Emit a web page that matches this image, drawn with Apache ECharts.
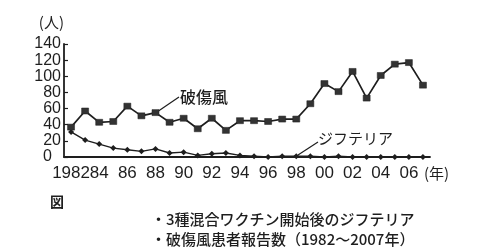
<!DOCTYPE html>
<html><head><meta charset="utf-8">
<script src="https://cdn.jsdelivr.net/npm/echarts@6/dist/echarts.min.js"></script>
<style>html,body{margin:0;padding:0;background:#fff}#c{width:500px;height:251px}</style>
</head><body><div id="c"></div>
<script>
var years = ['1982','1983','1984','1985','1986','1987','1988','1989','1990','1991','1992','1993','1994','1995','1996','1997','1998','1999','2000','2001','2002','2003','2004','2005','2006','2007'];
var yearLabels = ['1982','','84','','86','','88','','90','','92','','94','','96','','98','','00','','02','','04','','06',''];
var tetanus = [37,57,43,44,63,51,55,43,48,35,48,33,45,45,44,47,47,66,91,81,106,73,101,115,117,89];
var diphtheria = [31,21,16,11,9,7,10,5,6,2,4,5,2,1,0,1,1,1,0,1,0,0,0,0,0,0];
var tetanusName = '破傷風';
var diphtheriaName = 'ジフテリア';
var figLabel = '図';
var caption1 = '・3種混合ワクチン開始後のジフテリア';
var caption2 = '・破傷風患者報告数（1982～2007年）';

var ink = '#1e1e1e';
var numFont = 'Liberation Sans';
var jpFont = 'Noto Sans CJK JP';
var chart = echarts.init(document.getElementById('c'), null, {renderer:'canvas'});
chart.setOption({
  backgroundColor:'#fff',
  animation:false,
  grid:{left:64, right:70, top:44, bottom:94},
  xAxis:{
    type:'category', data:years, boundaryGap:true,
    name:'(年)', nameLocation:'end', nameGap:-6,
    nameTextStyle:{color:ink, fontFamily:jpFont, fontSize:15, verticalAlign:'top', align:'left', padding:[9,0,0,0]},
    axisLine:{lineStyle:{color:ink, width:1.8}},
    axisTick:{inside:true, length:5, interval:0, lineStyle:{color:ink, width:1.2}},
    axisLabel:{interval:0, margin:8, color:ink, fontFamily:numFont, fontSize:17,
      formatter:function(v,i){return yearLabels[i];}},
    splitLine:{show:false}
  },
  yAxis:{
    type:'value', min:0, max:140, interval:20,
    name:'(人)', nameLocation:'end', nameGap:14,
    nameTextStyle:{color:ink, fontFamily:jpFont, fontSize:15, align:'right', padding:[0,0,0,0]},
    axisLine:{show:true, lineStyle:{color:ink, width:1.8}},
    axisTick:{show:true, inside:true, length:4, lineStyle:{color:ink, width:1.2}},
    axisLabel:{margin:3, color:ink, fontFamily:numFont, fontSize:16, lineHeight:12, showMaxLabel:true, showMinLabel:true, hideOverlap:false,
      formatter:function(v){return v===0?'{z|0}':String(v);},
      rich:{z:{fontFamily:numFont, fontSize:16, lineHeight:12, color:ink, padding:[0,9,0,0]}}},
    splitLine:{show:false}
  },
  series:[
    {name:tetanusName, type:'line', data:tetanus, symbol:'rect', symbolSize:[7,6],
     lineStyle:{color:ink, width:1.7}, itemStyle:{color:'#333', borderColor:ink, borderWidth:0.5}, z:3},
    {name:diphtheriaName, type:'line', data:diphtheria, symbol:'diamond', symbolSize:6,
     lineStyle:{color:ink, width:1.4}, itemStyle:{color:ink}, z:2}
  ],
  graphic:[
    {type:'line', shape:{x1:157, y1:112, x2:179, y2:97}, style:{stroke:ink, lineWidth:1.2}},
    {type:'text', left:180, top:89, style:{text:tetanusName, fill:ink, font:'500 16px "Noto Sans CJK JP"'}},
    {type:'line', shape:{x1:298, y1:155, x2:318, y2:142}, style:{stroke:ink, lineWidth:1.2}},
    {type:'text', left:318, top:131, style:{text:diphtheriaName, fill:ink, font:'15px "Noto Sans CJK JP"'}},
    {type:'text', left:50, top:195, style:{text:figLabel, fill:ink, font:'bold 14px "Noto Sans CJK JP"'}},
    {type:'text', left:151, top:212, style:{text:caption1, fill:ink, font:'500 15px "Noto Sans CJK JP"'}},
    {type:'text', left:151, top:232, style:{text:caption2, fill:ink, font:'500 15px "Noto Sans CJK JP"'}}
  ]
});
</script></body></html>
